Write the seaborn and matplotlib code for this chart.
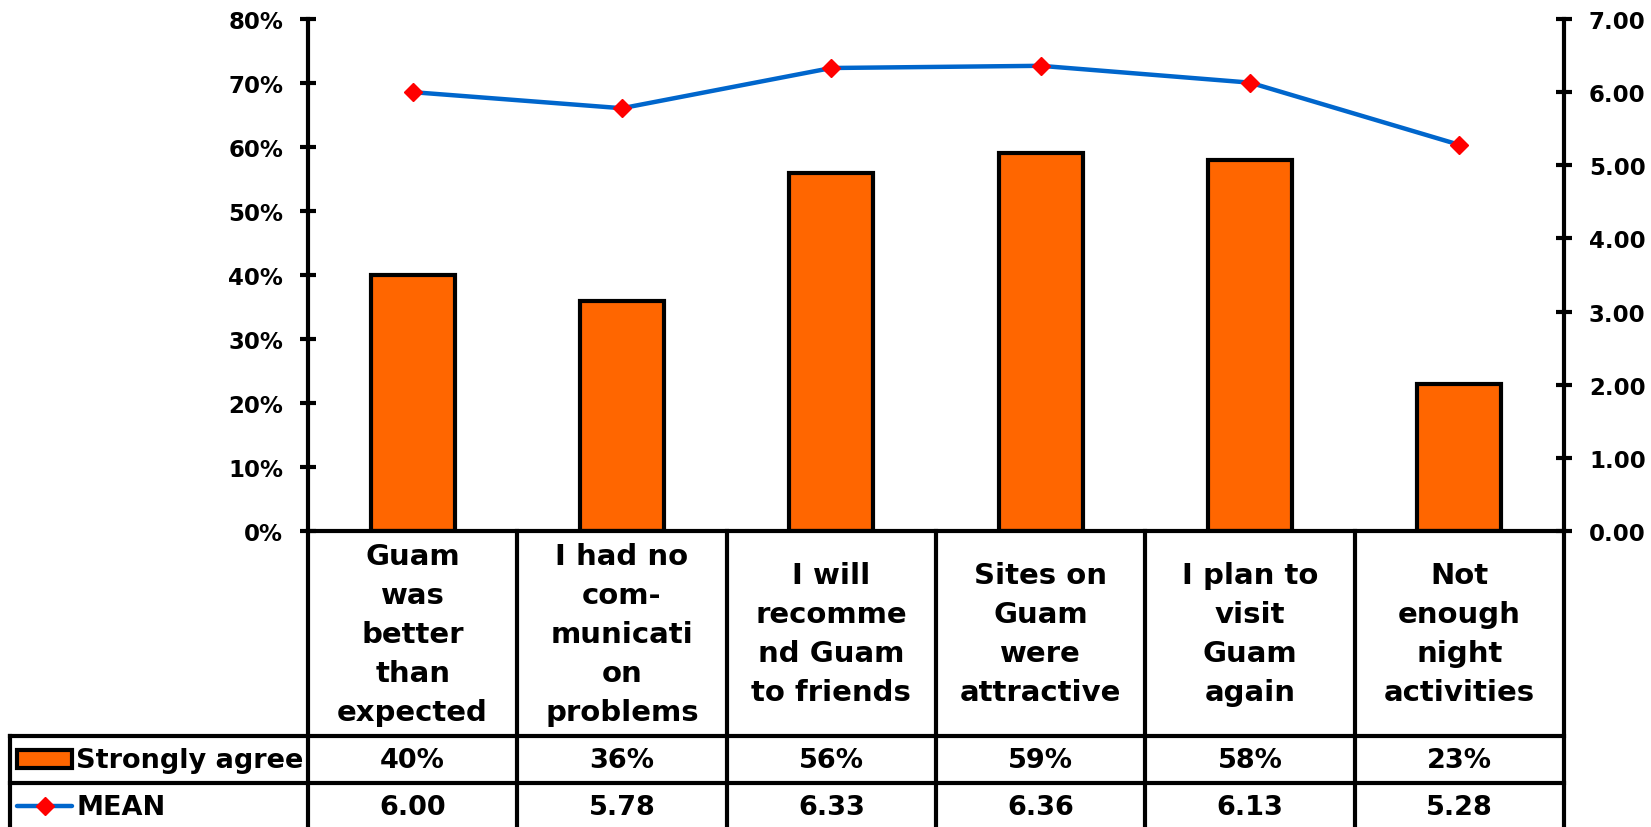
import matplotlib
matplotlib.use("Agg")
import matplotlib.pyplot as plt
import seaborn as sns
import numpy as np
import pandas as pd
from matplotlib.transforms import blended_transform_factory
from matplotlib.patches import Rectangle
from matplotlib.lines import Line2D
from matplotlib.ticker import FuncFormatter, FixedLocator

# ---- data -------------------------------------------------------------
categories = [
    "Guam\nwas\nbetter\nthan\nexpected",
    "I had no\ncom-\nmunicati\non\nproblems",
    "I will\nrecomme\nnd Guam\nto friends",
    "Sites on\nGuam\nwere\nattractive",
    "I plan to\nvisit\nGuam\nagain",
    "Not\nenough\nnight\nactivities",
]
strongly_agree = [40, 36, 56, 59, 58, 23]          # percent
mean_scores = [6.00, 5.78, 6.33, 6.36, 6.13, 5.28]  # 7-point scale
pct_ticks = [0, 10, 20, 30, 40, 50, 60, 70, 80]
mean_ticks = [0, 1, 2, 3, 4, 5, 6, 7]
series_names = ["Strongly agree", "MEAN"]

ORANGE = "#FF6600"
BLUE = "#0066CC"
RED = "#FF0000"

sns.set_theme(style="white")
plt.rcParams["font.family"] = ["DejaVu Sans"]
plt.rcParams["font.weight"] = "bold"

W, H = 1651, 828
fig = plt.figure(figsize=(W / 100, H / 100), dpi=100)
fig.patch.set_facecolor("white")

# plot area in pixels: x 308..1564, y 20..532
ax = fig.add_axes([308 / W, 1 - 532 / H, (1564 - 308) / W, 512 / H])
n = len(categories)

df = pd.DataFrame({"category": categories, "agree": strongly_agree})
sns.barplot(data=df, x="category", y="agree", ax=ax, color=ORANGE,
            saturation=1, edgecolor="black", linewidth=3, width=0.4)

ax2 = ax.twinx()
sns.lineplot(x=np.arange(n), y=mean_scores, ax=ax2, color=BLUE, linewidth=3.2,
             marker="D", markersize=9.5, markerfacecolor=RED,
             markeredgecolor=RED, markeredgewidth=1)

ax.set_xlim(-0.5, n - 0.5)
ax.set_ylim(pct_ticks[0], pct_ticks[-1])
ax2.set_ylim(mean_ticks[0], mean_ticks[-1])
ax.yaxis.set_major_locator(FixedLocator(pct_ticks))
ax.yaxis.set_major_formatter(FuncFormatter(lambda v, p: f"{v:.0f}%"))
ax2.yaxis.set_major_locator(FixedLocator(mean_ticks))
ax2.yaxis.set_major_formatter(FuncFormatter(lambda v, p: f"{v:.2f}"))

for a in (ax, ax2):
    a.set_xlabel("")
    a.set_ylabel("")
    a.set_facecolor("none")
    for s in a.spines.values():
        s.set_visible(False)
        s.set_color("black")
        s.set_linewidth(3)
ax.spines["left"].set_visible(True)
ax.spines["bottom"].set_visible(True)
ax2.spines["right"].set_visible(True)

ax.tick_params(axis="x", bottom=False, labelbottom=False)
ax.tick_params(axis="y", left=True, direction="inout", length=12, width=3,
               pad=12, labelsize=16.5, colors="black")
ax2.tick_params(axis="y", right=True, direction="inout", length=12, width=3,
                pad=12, labelsize=16.5, colors="black")
for lab in ax.get_yticklabels() + ax2.get_yticklabels():
    lab.set_fontweight("bold")

# ---- data table below the plot ----------------------------------------
tr = blended_transform_factory(ax.transData, fig.transFigure)
fy = lambda y: 1 - y / H
pos = ax.get_position()
LW = 3
FS = 19.5
FS_HEAD = 21

def vline(x, y0, y1, transform):
    fig.add_artist(Line2D([x, x], [fy(y0), fy(y1)], transform=transform,
                          color="black", lw=LW, solid_capstyle="projecting"))

# column borders, including the axis lines carried down
for b in np.arange(n + 1) - 0.5:
    vline(b, 532, 830, tr)
# row borders
for y in (737, 784):
    fig.add_artist(Line2D([10 / W, pos.x1], [fy(y), fy(y)],
                          transform=fig.transFigure, color="black", lw=LW,
                          solid_capstyle="projecting"))
vline(10 / W, 737, 830, fig.transFigure)

# header cells: category names
for i, cat in enumerate(categories):
    fig.text(i, fy(635), cat, transform=tr, ha="center", va="center",
             fontsize=FS_HEAD, fontweight="bold", linespacing=1.5,
             color="black")

# value rows
for i, (v, m) in enumerate(zip(strongly_agree, mean_scores)):
    fig.text(i, fy(761), f"{v}%", transform=tr, ha="center", va="center",
             fontsize=FS, fontweight="bold", color="black")
    fig.text(i, fy(808), f"{m:.2f}", transform=tr, ha="center", va="center",
             fontsize=FS, fontweight="bold", color="black")

# legend keys in the row headers
fig.add_artist(Rectangle((17 / W, fy(769)), 55 / W, 18 / H,
                         transform=fig.transFigure, facecolor=ORANGE,
                         edgecolor="black", linewidth=3))
fig.add_artist(Line2D([17 / W, 72 / W], [fy(807), fy(807)],
                      transform=fig.transFigure, color=BLUE, lw=3.2))
fig.add_artist(Line2D([44.5 / W], [fy(807)], transform=fig.transFigure,
                      marker="D", markersize=9.5, color=RED, lw=0))
fig.text(76 / W, fy(761), series_names[0], ha="left", va="center",
         fontsize=FS, fontweight="bold", color="black")
fig.text(76 / W, fy(808), series_names[1], ha="left", va="center",
         fontsize=FS, fontweight="bold", color="black")

fig.savefig("out.png", dpi=100, facecolor="white")
